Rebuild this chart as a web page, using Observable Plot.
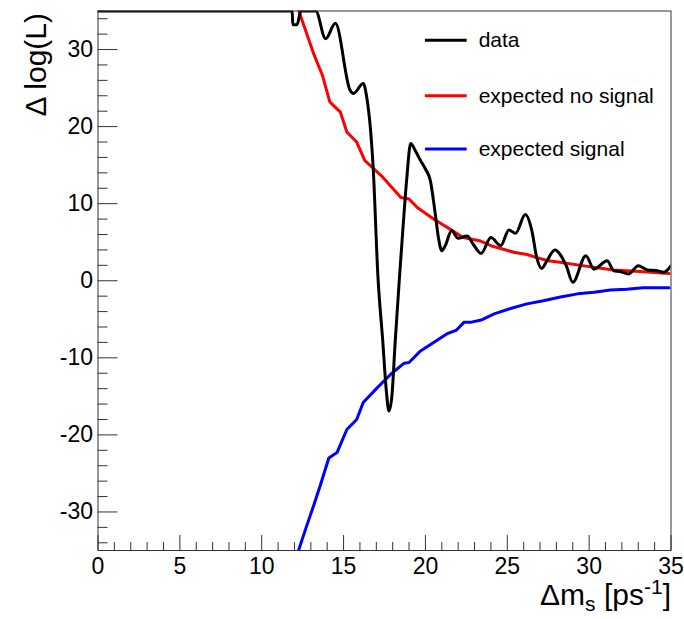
<!DOCTYPE html>
<html><head><meta charset="utf-8">
<script src="https://cdn.jsdelivr.net/npm/d3@7"></script>
<script src="https://cdn.jsdelivr.net/npm/@observablehq/plot@0.6"></script>
<style>body{margin:0;background:#fff}</style>
</head><body><div id="chart"></div>
<script>
// ---- data ----
const dataX = [0, 11.86, 11.9, 12.15, 12.4, 13.3, 13.9, 14.5, 15.4, 15.6, 16.2, 16.4, 16.65, 16.8, 17.1, 17.4, 17.6, 17.77, 17.95, 18.15, 18.4, 18.6, 18.85, 19.1, 19.4, 19.7, 20.0, 20.3, 20.6, 20.8, 21.0, 21.2, 21.6, 22.0, 22.55, 22.9, 23.4, 24.0, 24.6, 25.1, 25.5, 26.1, 26.5, 26.8, 27.1, 27.4, 27.9, 28.6, 29.0, 29.8, 30.3, 31.1, 31.5, 31.9, 32.4, 33.0, 33.55, 34.15, 34.56, 35.0];
const dataY = [35, 35, 33.2, 33.2, 35, 35, 31.4, 33.4, 24.7, 24.3, 25.6, 24, 19.5, 15, 0.5, -8, -14, -16.9, -15, -8, 0, 6, 13, 17.8, 16.8, 15.6, 14.5, 13, 8.7, 5.5, 3.9, 4.5, 6.5, 5.5, 5.8, 4.8, 3.55, 5.6, 4.55, 6.6, 6.15, 8.6, 6.5, 3.0, 1.6, 2.5, 4.0, 1.95, -0.2, 3.25, 1.5, 2.6, 1.3, 1.2, 0.87, 1.95, 1.4, 1.3, 1.1, 1.95];

const noSigX = [12.27, 13.2, 13.7, 14.16, 14.5, 14.8, 15.2, 15.8, 16.3, 16.8, 17.3, 18.5, 19.0, 19.5, 20.5, 21.5, 22.3, 23.3, 24.0, 25.4, 26.2, 26.8, 27.5, 28.2, 30.1, 31.5, 33.1, 34.9];
const noSigY = [35, 29.3, 26.7, 23.2, 22.5, 21.9, 19.3, 18.0, 15.6, 14.6, 13.65, 10.8, 10.6, 9.5, 8.0, 6.7, 5.6, 5.2, 4.55, 3.7, 3.4, 3.0, 2.6, 2.4, 1.8, 1.4, 1.2, 0.95];

const sigX = [12.25, 12.7, 13.2, 13.6, 14.1, 14.6, 15.2, 15.8, 16.2, 17.05, 17.9, 18.7, 19.0, 19.7, 20.5, 21.3, 21.9, 22.35, 22.75, 23.4, 24.2, 25.2, 26.2, 27.2, 28.25, 29.3, 30.3, 31.3, 32.3, 33.3, 34.9];
const sigY = [-35, -32.1, -29.0, -26.4, -23.0, -22.3, -19.3, -18.0, -15.8, -13.9, -12.1, -10.7, -10.6, -9.1, -8.0, -6.9, -6.4, -5.4, -5.4, -5.1, -4.3, -3.6, -3.0, -2.6, -2.1, -1.7, -1.5, -1.2, -1.1, -0.9, -0.9];

const seriesNames = ["data", "expected no signal", "expected signal"];
const seriesColors = ["#000000", "#ff0000", "#0000ff"];
const xTickLabels = [0, 5, 10, 15, 20, 25, 30, 35];
const yTickLabels = [-30, -20, -10, 0, 10, 20, 30];
const xLabel = "Δms [ps-1]";
const yLabel = "Δ log(L)";

// ---- layout (not data) ----
const legendRowsY = [31.2, 24.0, 17.1];
const legendKey = {x1: 20.0, x2: 22.55, tx: 23.25};

const rows = (xs, ys) => xs.map((x, i) => ({x, y: ys[i]}));
const xMinor = d3.range(0, 36, 1).filter(v => v % 5 !== 0);
const yMinor = d3.range(-34, 35, 2).filter(v => v % 10 !== 0);
const legend = seriesNames.map((name, i) => ({name, y: legendRowsY[i], color: seriesColors[i]}));
const font = "'Liberation Sans', Arial, Helvetica, sans-serif";
const axisColor = "#333";

const svg = Plot.plot({
  width: 684, height: 619,
  marginLeft: 97.5, marginRight: 13.5, marginTop: 10.5, marginBottom: 69,
  style: {fontFamily: font, background: "white", color: "black"},
  x: {domain: [0, 35]},
  y: {domain: [-35, 35]},
  marks: [
    Plot.line(rows(sigX, sigY), {x: "x", y: "y", stroke: seriesColors[2], strokeWidth: 3, clip: true}),
    Plot.line(rows(noSigX, noSigY), {x: "x", y: "y", stroke: seriesColors[1], strokeWidth: 3, clip: true}),
    Plot.line(rows(dataX, dataY), {x: "x", y: "y", stroke: seriesColors[0], strokeWidth: 3, curve: "monotone-x", clip: true}),
    Plot.frame({stroke: axisColor, strokeWidth: 1}),
    // inward ticks
    Plot.axisX({ticks: xTickLabels, tickSize: -15, fill: "none", stroke: axisColor, label: null}),
    Plot.axisX({ticks: xMinor, tickSize: -8, fill: "none", stroke: axisColor, label: null}),
    Plot.axisY({ticks: yTickLabels, tickSize: -20, fill: "none", stroke: axisColor, label: null}),
    Plot.axisY({ticks: yMinor, tickSize: -10, fill: "none", stroke: axisColor, label: null}),
    // tick labels
    Plot.axisX({ticks: xTickLabels, tickSize: 0, tickPadding: 7, fontSize: 23, tickFormat: d => String(d), label: null}),
    Plot.axisY({ticks: yTickLabels, tickSize: 0, tickPadding: 5, fontSize: 23, tickFormat: d => String(d), label: null}),
    // axis titles
    Plot.text([yLabel], {frameAnchor: "top-left", rotate: -90, textAnchor: "end", lineAnchor: "middle", dx: -62, dy: 2, fontSize: 30}),
    Plot.text([xLabel], {frameAnchor: "bottom-right", textAnchor: "end", lineAnchor: "middle", dx: 0, dy: 45, fontSize: 30}),
    // legend
    Plot.ruleY(legend, {y: "y", x1: legendKey.x1, x2: legendKey.x2, stroke: "color", strokeWidth: 3}),
    Plot.text(legend, {x: legendKey.tx, y: "y", text: "name", textAnchor: "start", lineAnchor: "middle", fontSize: 21})
  ]
});

// sub/superscripts in the x-axis title
svg.querySelectorAll("text").forEach(t => {
  if (t.textContent === xLabel) {
    t.textContent = "";
    const parts = [["Δm", null], ["s", "-6"], [" [ps", null], ["-1", "11"], ["]", null]];
    for (const [s, shift] of parts) {
      const ts = document.createElementNS("http://www.w3.org/2000/svg", "tspan");
      ts.textContent = s;
      if (shift) { ts.setAttribute("baseline-shift", shift); ts.setAttribute("font-size", "21"); }
      t.appendChild(ts);
    }
  }
});
document.getElementById("chart").appendChild(svg);
</script>
</body></html>
